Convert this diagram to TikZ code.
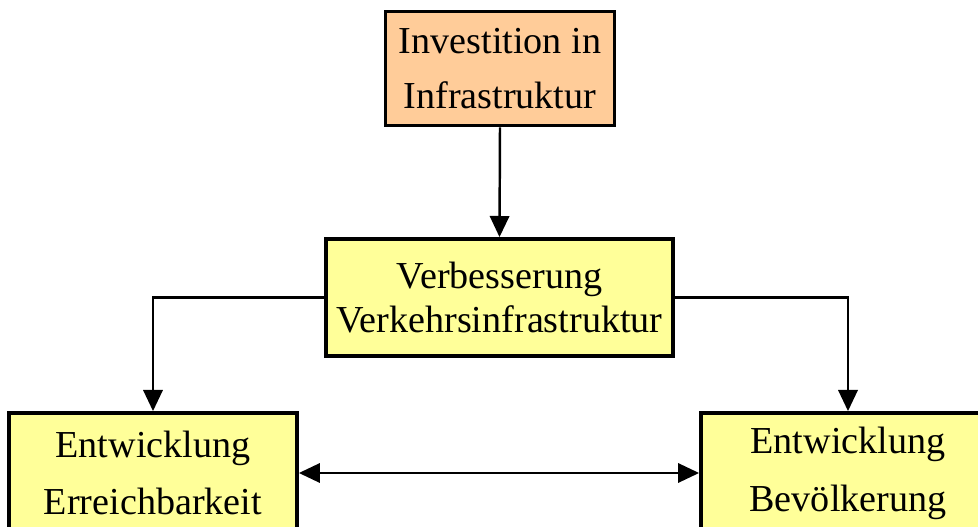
\documentclass[tikz,border=0pt]{standalone}
\usepackage{fontspec}
\setmainfont{Liberation Serif}
\usepackage{xcolor}
\usepackage{tikz}
\usetikzlibrary{arrows.meta, positioning, calc}
\definecolor{investorange}{RGB}{255, 204, 153}
\definecolor{boxyellow}{RGB}{255, 255, 153}

\tikzset{
    flowbox/.style={draw=black, fill=boxyellow, line width=2.2pt, align=center, inner sep=0pt},
    flowarrow/.style={line width=1.4pt, -{Triangle[length=12pt,width=11pt]}},
}

\begin{document}
\begin{tikzpicture}[x=0.02cm, y=-0.02cm]
    \clip (0,0) rectangle (978,527);
    \fill[white] (0,0) rectangle (978,527);

    \node[flowbox, fill=investorange, line width=1.7pt, minimum width=4.6cm, minimum height=2.3cm,
          font=\fontsize{21.7}{31.7}\selectfont] (invest) at (500,68.5)
          {Investition in\\Infrastruktur};
    \node[flowbox, minimum width=6.94cm, minimum height=2.34cm,
          font=\fontsize{21.7}{25.5}\selectfont] (verkehr) at (499.5,297.5)
          {Verbesserung\\Verkehrsinfrastruktur};
    \node[flowbox, minimum width=5.76cm, minimum height=2.4cm,
          font=\fontsize{21.7}{32.9}\selectfont] (erreich) at (153,473)
          {Entwicklung\\Erreichbarkeit};
    \node[flowbox, minimum width=5.88cm, minimum height=2.4cm,
          font=\fontsize{21.7}{32.9}\selectfont] (bevoelk) at (848,473)
          {Entwicklung\\Bev\"olkerung};

    \draw[flowarrow] (invest.south) -- (verkehr.north);
    \draw[flowarrow] (verkehr.west) -| (erreich.north);
    \draw[flowarrow] (verkehr.east) -| (bevoelk.north);
    \draw[flowarrow, {Triangle[length=12pt,width=11pt]}-{Triangle[length=12pt,width=11pt]}] (erreich.east) -- (bevoelk.west);
\end{tikzpicture}
\end{document}
